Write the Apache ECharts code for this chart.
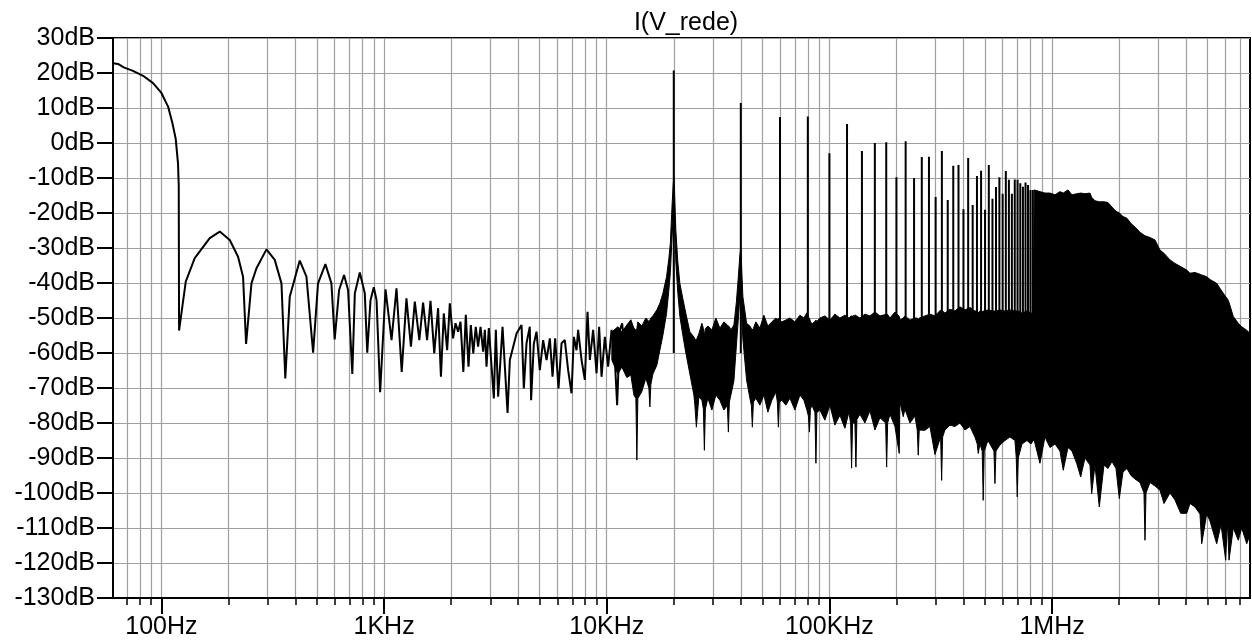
<!DOCTYPE html>
<html><head><meta charset="utf-8">
<script src="https://cdn.jsdelivr.net/npm/echarts@6/dist/echarts.min.js"></script>
<style>html,body{margin:0;padding:0;background:#fff}#c{width:1252px;height:643px}</style>
</head><body><div id="c"></div>
<script>
// ---- axis ----
const X_MIN = 60.6, X_MAX = 7745000;
const xMajorTicks = [100, 1000, 10000, 100000, 1000000];
const xMajorLabels = ['100Hz', '1KHz', '10KHz', '100KHz', '1MHz'];
const xMinorTicks = [70, 80, 90, 200, 300, 400, 500, 600, 700, 800, 900,
  2000, 3000, 4000, 5000, 6000, 7000, 8000, 9000,
  20000, 30000, 40000, 50000, 60000, 70000, 80000, 90000,
  200000, 300000, 400000, 500000, 600000, 700000, 800000, 900000,
  2000000, 3000000, 4000000, 5000000, 6000000, 7000000];
const Y_MIN = -130, Y_MAX = 30, Y_STEP = 10;

// ---- data: [frequency Hz, dB] ----
const mainLobe = [[60.6, 22.8], [63.8, 22.6], [67.7, 21.6], [74.5, 20.6], [82.7, 19.2], [91.7, 17.1],
  [100, 14.3], [107.1, 10.4], [112, 5.7], [115.9, 1.2], [118.7, -5.8], [119.6, -12], [120, -53.6]];
const sideLobes = [[128.6, -39.6], [141.1, -32.9], [164.8, -27.2], [182.8, -25.3], [202.7, -27.7], [220.9, -32.5], [232.6, -38.2], [240, -57.4],
  [253.7, -40.1], [267.2, -35.8], [296.3, -30.4], [322.8, -33.4], [346, -40.1], [360, -67.3],
  [377, -43.9], [418, -33.6], [448, -38.2], [480, -59.9],
  [505, -40.1], [545, -34.6], [580, -40.1], [600, -56.1],
  [628, -42.0], [661, -37.7], [689, -42.0], [720, -66.0],
  [739, -42.9], [778, -37.0], [819, -42.9], [840, -59.9],
  [869, -44.9], [899, -41.2], [925, -44.9], [960, -71.2]];
const midNoise = [[1015, -41.8], [1080, -56.3], [1137, -41.5], [1200, -65.4], [1260, -44.4], [1320, -58.2], [1374, -45.3], [1440, -56.3],
  [1497, -45.6], [1560, -56.3], [1616, -45.1], [1680, -60.1], [1748, -47.2], [1800, -66.8], [1854, -48.7], [1920, -59.2],
  [1973, -45.8], [2040, -55.8], [2093, -51.5], [2150, -53.9], [2204, -51.1], [2270, -65.4], [2328, -49.1], [2394, -63.9],
  [2452, -52.0], [2515, -60.1], [2581, -52.5], [2644, -58.2], [2711, -52.5], [2785, -59.6], [2835, -53.4], [2884, -63.9],
  [2954, -52.9], [3111, -73.0], [3176, -53.4], [3253, -72.5], [3404, -52.5], [3585, -77.1], [3671, -62.0], [3935, -54.4],
  [4143, -52.0], [4242, -70.1], [4362, -57.2], [4512, -52.5], [4574, -73.5], [4704, -57.4], [4837, -53.9], [5006, -64.9],
  [5180, -56.3], [5365, -62.0], [5552, -55.8], [5708, -66.8], [5864, -55.8], [6073, -70.1], [6266, -57.2], [6482, -56.3],
  [6708, -64.9], [6948, -71.5], [7116, -55.4], [7316, -59.2], [7439, -53.4], [7706, -62.0], [7973, -67.7], [8198, -48.2],
  [8397, -62.0], [8688, -53.4], [9000, -65.8], [9245, -52.5], [9477, -66.8], [9806, -55.4], [10146, -63.9], [10510, -53.4],
  [10875, -62.0], [11135, -74.9], [11454, -53.4], [11728, -51.5], [12060, -60.1], [12478, -52.5]];

// dense region: [frequency Hz, upper edge dB, lower edge dB]
const denseBand = [
  [10544, -54.0, -62.0], [11215, -52.5, -66.0], [11689, -54.0, -64.0], [12311, -52.0, -67.0], [12834, -50.5, -66.3],
  [13237, -52.9, -72.0], [13514, -53.4, -73.0], [13655, -53.0, -90.6], [13798, -51.1, -73.0], [14377, -52.3, -71.0],
  [14984, -50.0, -67.2], [15458, -51.0, -70.0], [15619, -50.6, -75.4], [15782, -50.0, -69.0], [16115, -49.4, -66.0],
  [16788, -47.7, -63.5], [17320, -45.8, -59.2], [17865, -43.0, -55.0], [18561, -38.2, -48.7], [19011, -33.0, -42.0],
  [19307, -28.6, -37.0], [19608, -19.0, -28.0], [19873, -12.0, -21.0], [20000, -9.6, -17.0], [20121, -12.0, -21.0],
  [20435, -25.0, -34.0], [20863, -34.0, -43.0], [21300, -40.1, -49.5], [21973, -44.5, -55.0], [22667, -48.7, -60.0],
  [23624, -54.0, -66.0], [24623, -55.4, -72.0], [24880, -56.0, -75.0], [25268, -56.3, -81.2], [25928, -54.5, -72.5],
  [26747, -51.5, -73.5], [27164, -53.0, -76.0], [27447, -55.0, -87.8], [27733, -53.0, -76.0], [28459, -52.3, -72.9],
  [29663, -53.4, -76.3], [30912, -50.0, -72.0], [32218, -52.9, -73.5], [33580, -51.1, -76.3], [34816, -52.0, -75.0],
  [35179, -52.3, -82.6], [35545, -52.5, -74.0], [36100, -53.4, -72.0], [37240, -52.0, -68.0], [38212, -45.5, -58.0],
  [39012, -38.0, -50.0], [39627, -32.0, -44.0], [40000, -30.0, -45.0], [40252, -34.0, -47.0], [40873, -43.9, -56.0],
  [42462, -51.5, -67.7], [43940, -52.3, -72.9], [44625, -53.0, -75.0], [45087, -53.4, -81.2], [45556, -53.0, -74.0],
  [46746, -51.1, -72.9], [48725, -52.9, -74.9], [50784, -49.2, -72.0], [52925, -52.3, -76.9], [55158, -51.1, -73.5],
  [57494, -50.0, -71.2], [58390, -50.6, -74.0], [58999, -50.0, -81.2], [59614, -50.6, -74.0], [61170, -51.1, -73.5],
  [63760, -50.6, -74.9], [66455, -50.0, -72.9], [69984, -51.1, -76.3], [73707, -49.2, -72.0], [76815, -50.0, -73.5],
  [79240, -48.5, -76.3], [80484, -50.0, -78.0], [81323, -50.0, -82.6], [82170, -51.0, -76.0], [83451, -51.7, -74.9],
  [86090, -51.0, -77.0], [86987, -50.6, -91.5], [87894, -51.0, -77.0], [90654, -50.0, -76.3], [95458, -49.4, -79.2],
  [100507, -50.6, -74.9], [105849, -48.9, -80.6], [111477, -50.0, -77.8], [117382, -49.2, -81.5], [122337, -50.0, -76.9],
  [124526, -49.5, -80.0], [125792, -49.4, -92.9], [127103, -49.5, -80.0], [130183, -49.2, -80.0], [131540, -49.2, -92.6],
  [132911, -49.5, -79.0], [137088, -50.0, -77.5], [144380, -48.9, -80.0], [152055, -49.4, -76.5], [160139, -48.3, -82.0],
  [168651, -49.4, -78.5], [178886, -49.0, -80.0], [180750, -48.9, -92.6], [182634, -49.0, -80.0], [187024, -50.0, -77.5],
  [196962, -48.3, -81.0], [205900, -49.5, -88.7], [207375, -50.6, -74.0], [214612, -50.0, -78.2], [218401, -49.4, -76.0],
  [229999, -50.6, -80.0], [242233, -50.0, -78.0], [248047, -50.0, -82.0], [250624, -50.6, -89.2], [253232, -50.0, -82.0],
  [268534, -49.4, -82.1], [282815, -48.9, -81.0], [297844, -49.4, -89.0], [315905, -47.7, -84.0], [319198, -48.0, -96.4],
  [322512, -48.0, -84.0], [330259, -48.6, -82.0], [347759, -47.5, -80.6], [366245, -48.0, -81.0], [385734, -46.8, -80.0],
  [406245, -47.7, -82.0], [427690, -47.0, -81.0], [450491, -48.0, -84.0], [461300, -48.0, -86.0], [466054, -48.5, -88.7],
  [474293, -48.0, -86.0], [485670, -48.3, -88.0], [490710, -48.0, -102.1], [495823, -48.0, -88.0], [515200, -47.7, -85.0],
  [548300, -48.0, -88.0], [554012, -48.0, -97.3], [559778, -48.0, -88.0], [583311, -47.7, -86.3], [614300, -48.0, -85.0],
  [647000, -47.7, -84.0], [681300, -48.0, -85.0], [690600, -48.0, -90.0], [697800, -48.0, -101.1], [705100, -48.0, -90.0],
  [732600, -48.6, -86.0], [771600, -48.0, -85.0], [803900, -48.6, -86.0], [823400, -48.6, -85.0], [832000, -13.4, -85.0],
  [882400, -13.9, -91.5], [929200, -14.3, -84.0], [978600, -14.3, -87.0], [1030600, -14.8, -86.0], [1085200, -13.9, -88.0],
  [1122800, -14.3, -93.5], [1178800, -13.4, -87.0], [1228700, -14.8, -88.0], [1289900, -14.5, -91.5], [1344400, -14.3, -95.4],
  [1405500, -14.5, -90.0], [1480200, -14.3, -92.0], [1506300, -15.5, -100.2], [1558600, -16.5, -92.0], [1629700, -16.8, -104.0],
  [1710800, -16.8, -92.0], [1783200, -17.0, -93.0], [1858300, -18.3, -91.0], [1937000, -19.5, -93.0], [2004500, -20.0, -101.6],
  [2082300, -21.0, -94.0], [2170400, -21.5, -93.0], [2262000, -23.0, -95.0], [2357500, -24.0, -96.0], [2482800, -25.5, -97.0],
  [2587800, -26.3, -100.0], [2614700, -26.5, -113.5], [2642000, -26.6, -100.0], [2753400, -27.0, -97.0], [2899800, -27.7, -98.0],
  [3053200, -30.6, -99.2], [3182400, -31.5, -103.0], [3386400, -33.4, -100.0], [3565500, -34.4, -102.0], [3781900, -35.3, -105.8],
  [4024600, -36.3, -105.8], [4164300, -37.2, -103.0], [4385300, -37.0, -104.0], [4617700, -37.5, -106.0], [4700200, -37.7, -114.5],
  [4950000, -38.2, -106.0], [5121900, -39.0, -108.0], [5488000, -40.1, -114.5], [5739000, -42.0, -109.0], [6025000, -43.9, -119.2],
  [6130000, -44.5, -108.0], [6234000, -45.5, -119.2], [6517000, -49.6, -110.0], [6862000, -51.5, -113.5], [7111000, -52.5, -110.0],
  [7487000, -53.5, -114.5], [7745000, -54.4, -112.0]];

// switching harmonics (peak dB)
const harmFreq = [20000, 40000, 60000, 80000, 100000, 120000, 140000, 160000, 180000, 200000,
  220000, 240000, 260000, 280000, 300000, 320000, 340000, 360000, 380000, 400000,
  420000, 440000, 460000, 480000, 500000, 520000, 540000, 560000, 580000, 600000,
  620000, 640000, 660000, 680000, 700000, 720000, 740000, 760000, 780000, 800000, 820000];
const harmDb = [20.7, 11.4, 7.4, 7.6, -2.9, 5.4, -2.3, 0.0, 0.2, -9.8,
  0.5, -10.0, -4.0, -3.9, -15.4, -2.3, -16.3, -6.5, -6.3, -18.9,
  -4.3, -17.7, -9.4, -7.9, -19.1, -6.3, -15.9, -12.6, -9.8, -14.5,
  -8.0, -10.5, -14.5, -10.4, -10.5, -11.5, -12.5, -11.3, -12.0, -13.4, -13.4];
const harmBase = -60;

// ---- build ----
const lineData = mainLobe.concat(sideLobes, midNoise);
const harmData = [];
harmFreq.forEach((f, i) => { harmData.push([f, harmBase], [f, harmDb[i]], [f, '-']); });

const FONT = "'Liberation Sans', Arial, Helvetica, sans-serif";
const GRID_COLOR = '#a0a0a0';
function xLabel(v) {
  for (let i = 0; i < xMajorTicks.length; i++) {
    if (Math.abs(Math.log10(v) - Math.log10(xMajorTicks[i])) < 0.01) return xMajorLabels[i];
  }
  return '';
}

function renderBand(params, api) {
  if (params.dataIndex !== 0) return null;
  const pts = [];
  for (let i = 0; i < denseBand.length; i++) pts.push(api.coord([denseBand[i][0], denseBand[i][1]]));
  for (let i = denseBand.length - 1; i >= 0; i--) pts.push(api.coord([denseBand[i][0], denseBand[i][2]]));
  return { type: 'polygon', shape: { points: pts }, style: { fill: '#000', stroke: '#000', lineWidth: 1 } };
}

const chart = echarts.init(document.getElementById('c'), null, { renderer: 'canvas' });
chart.setOption({
  animation: false,
  backgroundColor: '#fff',
  title: {
    text: 'I(V_rede)', left: 681, top: 6, textAlign: 'center',
    textStyle: { fontFamily: FONT, fontSize: 25, fontWeight: 'normal', color: '#000' }
  },
  grid: { left: 113, right: 2, top: 38, bottom: 45, show: true, borderColor: '#000', borderWidth: 2, outerBoundsMode: 'none', containLabel: false },
  xAxis: [
    {
      type: 'log', logBase: 10, min: X_MIN, max: X_MAX, position: 'bottom',
      axisLine: { show: true, onZero: false, lineStyle: { color: '#000', width: 2 } },
      axisTick: { show: true, customValues: xMajorTicks, length: 16, lineStyle: { color: '#000', width: 2 } },
      axisLabel: { show: true, customValues: xMajorTicks, formatter: xLabel, margin: 17, fontFamily: FONT, fontSize: 25, color: '#000' },
      splitLine: { show: true, lineStyle: { color: GRID_COLOR, width: 1.2 } }
    },
    {
      type: 'log', logBase: 10, min: X_MIN, max: X_MAX, position: 'bottom', offset: 0,
      axisLine: { show: false, onZero: false },
      axisTick: { show: true, customValues: xMinorTicks, length: 7, lineStyle: { color: '#000', width: 1.5 } },
      axisLabel: { show: false },
      splitLine: { show: true, lineStyle: { color: GRID_COLOR, width: 1.2 } }
    }
  ],
  yAxis: {
    type: 'value', min: Y_MIN, max: Y_MAX, interval: Y_STEP,
    axisLine: { show: true, onZero: false, lineStyle: { color: '#000', width: 2 } },
    axisTick: { show: true, length: 16, lineStyle: { color: '#000', width: 2 } },
    axisLabel: { formatter: '{value}dB', margin: 18, fontFamily: FONT, fontSize: 25, color: '#000' },
    splitLine: { show: true, lineStyle: { color: GRID_COLOR, width: 1.2 } }
  },
  series: [
    { name: 'dense', type: 'custom', xAxisIndex: 0, yAxisIndex: 0, data: denseBand,
      encode: { x: 0, y: [1, 2] }, renderItem: renderBand },
    { name: 'I(V_rede)', type: 'line', xAxisIndex: 0, data: lineData, symbol: 'none',
      lineStyle: { color: '#000', width: 2 } },
    { name: 'harmonics', type: 'line', xAxisIndex: 0, data: harmData, symbol: 'none', connectNulls: false,
      lineStyle: { color: '#000', width: 2 } }
  ]
});
</script>
</body></html>
